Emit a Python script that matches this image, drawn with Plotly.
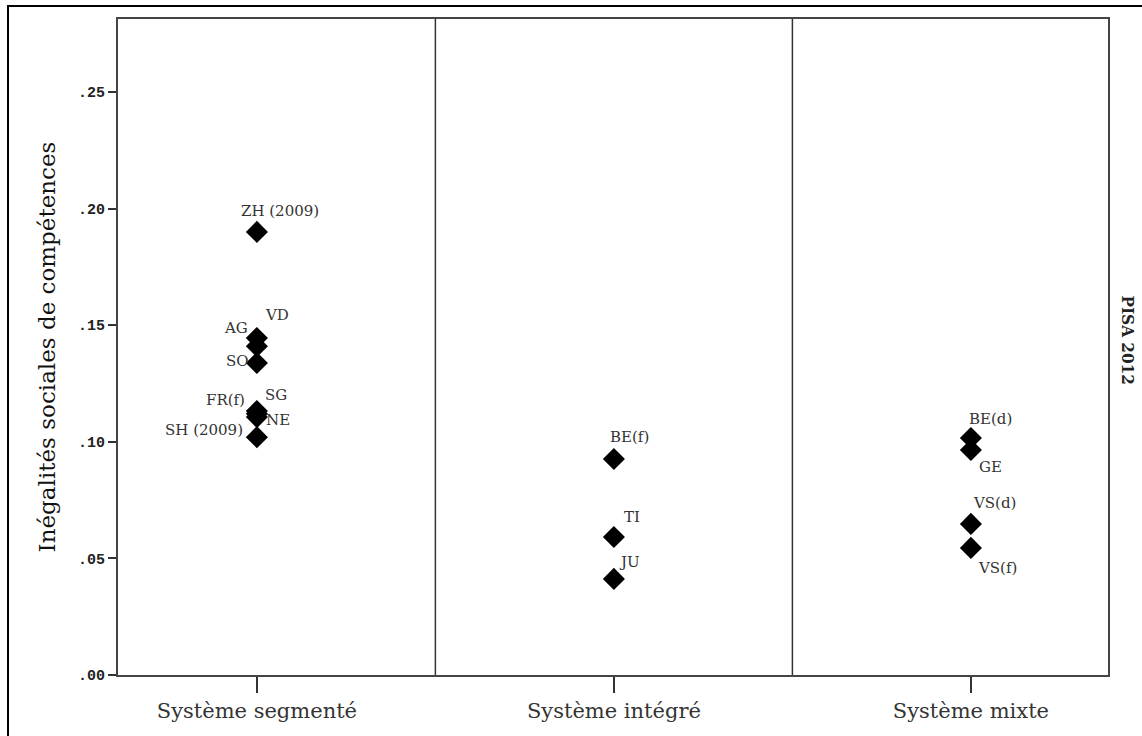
import plotly.graph_objects as go

categories = ["Système segmenté", "Système intégré", "Système mixte"]
y_ticks = [0.0, 0.05, 0.10, 0.15, 0.20, 0.25]
y_tick_labels = [".00", ".05", ".10", ".15", ".20", ".25"]

seg_labels = ["ZH (2009)", "VD", "AG", "SO", "FR(f)", "SG", "NE", "SH (2009)"]
seg_values = [0.190, 0.1445, 0.1410, 0.1338, 0.1132, 0.1120, 0.1106, 0.1020]
int_labels = ["BE(f)", "TI", "JU"]
int_values = [0.0926, 0.0592, 0.0412]
mix_labels = ["BE(d)", "GE", "VS(d)", "VS(f)"]
mix_values = [0.1016, 0.0965, 0.0648, 0.0545]

groups = [(seg_labels, seg_values), (int_labels, int_values), (mix_labels, mix_values)]

# label offsets (pixels) – styling only
offsets = {
    "ZH (2009)": (23, 21), "VD": (20, 23), "AG": (-21, 18), "SO": (-19, 2),
    "FR(f)": (-31, 11), "SG": (19, 19), "NE": (21, -3), "SH (2009)": (-53, 7),
    "BE(f)": (16, 22), "TI": (18, 20), "JU": (16, 17),
    "BE(d)": (20, 19), "GE": (20, -17), "VS(d)": (24, 21), "VS(f)": (27, -20),
}

fig = go.Figure()
annotations = []
for i, (labs, vals) in enumerate(groups):
    fig.add_trace(go.Scatter(
        x=[i] * len(vals), y=vals, mode="markers",
        marker=dict(symbol="diamond", size=17, color="black"),
        showlegend=False, hoverinfo="text", text=labs,
    ))
    for lab, v in zip(labs, vals):
        dx, dy = offsets[lab]
        annotations.append(dict(
            x=i, y=v, xref="x", yref="y", text=lab, showarrow=False,
            xshift=dx, yshift=dy,
            font=dict(family="DejaVu Serif", size=15, color="#333333"),
        ))

annotations.append(dict(
    x=1.0202, y=0.51, xref="paper", yref="paper", text="<b>PISA 2012</b>",
    showarrow=False, textangle=90, xanchor="center", yanchor="middle",
    font=dict(family="DejaVu Serif Condensed", size=17, color="#222222"),
))

shapes = [
    dict(type="line", xref="x", yref="paper", x0=0.5, x1=0.5, y0=0, y1=1,
         line=dict(color="#333333", width=1.5)),
    dict(type="line", xref="x", yref="paper", x0=1.5, x1=1.5, y0=0, y1=1,
         line=dict(color="#333333", width=1.5)),
    dict(type="rect", xref="paper", yref="paper", x0=-0.1111, x1=1.06,
         y0=-0.11, y1=1.0198, line=dict(color="black", width=2),
         fillcolor="rgba(0,0,0,0)", layer="below"),
]

fig.update_layout(
    width=1142, height=736,
    margin=dict(l=118, r=34, t=19, b=61),
    paper_bgcolor="white", plot_bgcolor="white",
    annotations=annotations, shapes=shapes,
    xaxis=dict(
        range=[-0.389, 2.384], tickvals=[0, 1, 2], ticktext=categories,
        ticks="outside", ticklen=16, tickwidth=1.5, tickcolor="#333333",
        showgrid=False, zeroline=False, showline=True, linecolor="#444444",
        linewidth=2, mirror=True,
        tickfont=dict(family="DejaVu Serif", size=21, color="#333333"),
    ),
    yaxis=dict(
        range=[0, 0.2813], tickvals=y_ticks, ticktext=y_tick_labels,
        ticks="outside", ticklen=8, tickwidth=1.5, tickcolor="#333333",
        showgrid=False, zeroline=False, showline=True, linecolor="#444444",
        linewidth=2, mirror=True,
        tickfont=dict(family="Liberation Mono", size=15, color="#222222",
                      weight="bold"),
        title=dict(text="Inégalités sociales de compétences", standoff=16,
                   font=dict(family="DejaVu Serif", size=23, color="#111111")),
    ),
)

fig.write_html("out.html", config={"displayModeBar": False},
               post_script="document.body.style.margin='0';")
